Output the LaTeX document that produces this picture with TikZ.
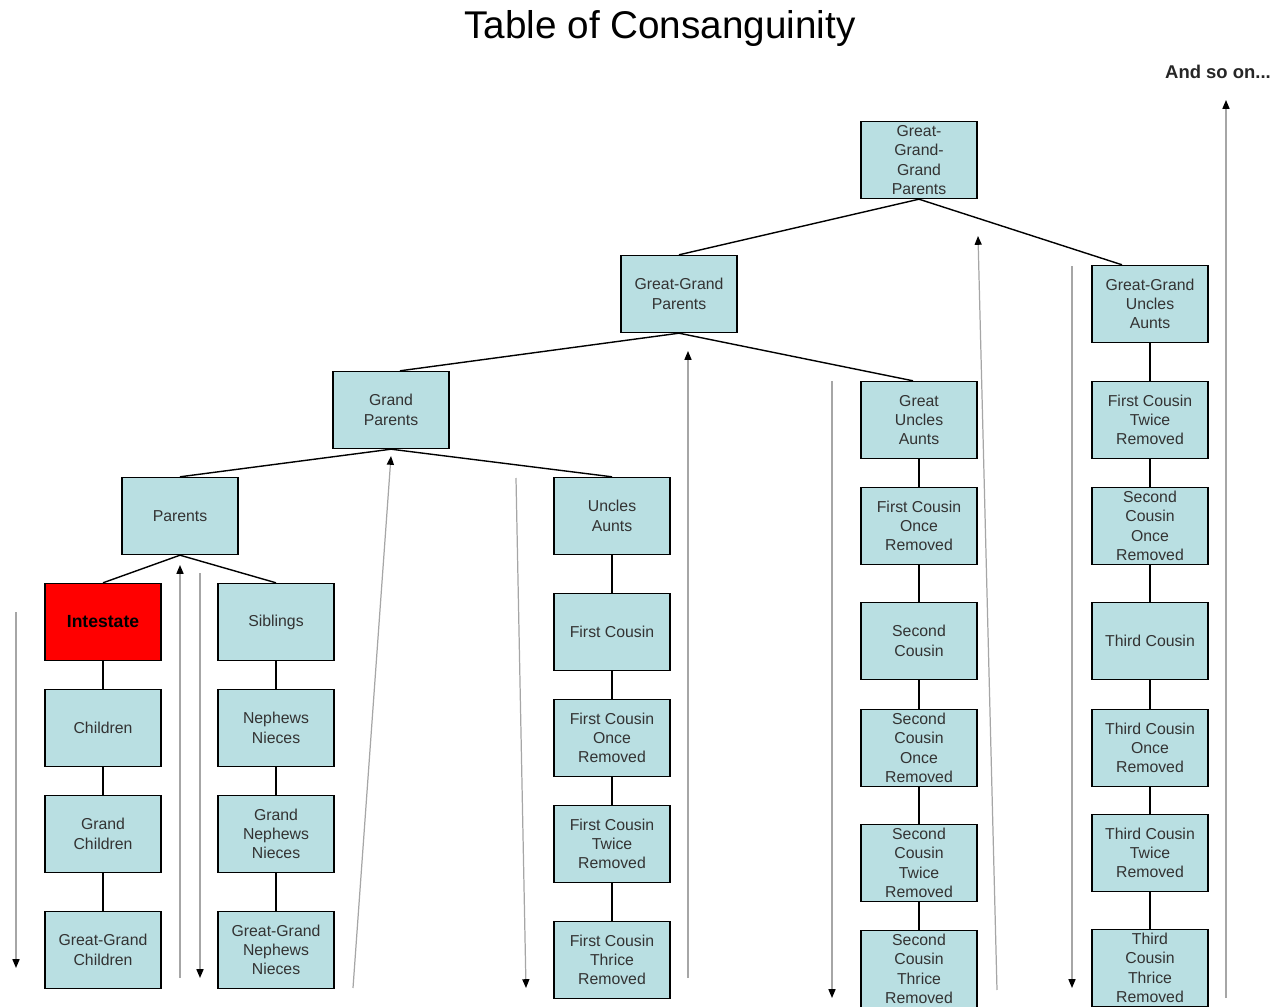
\documentclass[tikz,border=0pt]{standalone}
\usepackage{fontspec}
\setmainfont{Liberation Sans}
\usetikzlibrary{arrows.meta}
\definecolor{kinfill}{RGB}{185,223,226}
\definecolor{heirred}{RGB}{255,0,0}

\begin{document}
\begin{tikzpicture}[x=0.02cm,y=-0.02cm,
    kin/.style={draw=black,line width=0.8pt,fill=kinfill,rectangle,minimum width=2.32cm,minimum height=1.54cm,
      inner sep=0pt,align=center,text=black!80,font=\fontsize{9}{11}\selectfont},
    heir/.style={kin,fill=heirred,text=black,font=\fontsize{10}{12}\selectfont\bfseries},
    link/.style={line width=0.8pt},
    degree/.style={gray!70,line width=0.7pt,-{Triangle[color=black,length=5pt,width=4pt]}}]
    \useasboundingbox (0,0) rectangle (1286,1007);
    %% Title
    \node (title) at (660,29) {\fontsize{22}{25}\selectfont Table of Consanguinity};
    \node[font=\fontsize{10.5}{12}\selectfont\bfseries,text=black!85] (more) at (1218,72) {And so on...};
    %% Descendants
    \node[heir] (int) at (103,622) {Intestate};
    \node[kin] (chi) at (103,728) {Children};
    \node[kin] (gch) at (103,834) {Grand\\Children};
    \node[kin] (ggch) at (103,950) {Great-Grand\\Children};
    %% Parents and siblings
    \node[kin] (par) at (180,516) {Parents};
    \node[kin] (sib) at (276,622) {Siblings};
    \node[kin] (nep) at (276,728) {Nephews\\Nieces};
    \node[kin] (gnep) at (276,834) {Grand\\Nephews\\Nieces};
    \node[kin] (ggnep) at (276,950) {Great-Grand\\Nephews\\Nieces};
    %% Grand parents
    \node[kin] (gp) at (391,410) {Grand\\Parents};
    \node[kin] (ua) at (612,516) {Uncles\\Aunts};
    \node[kin] (fc) at (612,632) {First Cousin};
    \node[kin] (fc1) at (612,738) {First Cousin\\Once\\Removed};
    \node[kin] (fc2) at (612,844) {First Cousin\\Twice\\Removed};
    \node[kin] (fc3) at (612,960) {First Cousin\\Thrice\\Removed};
    %% Great-grand parents
    \node[kin] (ggp) at (679,294) {Great-Grand\\Parents};
    \node[kin] (gua) at (919,420) {Great\\Uncles\\Aunts};
    \node[kin] (gfc1) at (919,526) {First Cousin\\Once\\Removed};
    \node[kin] (sc) at (919,641) {Second\\Cousin};
    \node[kin] (sc1) at (919,748) {Second\\Cousin\\Once\\Removed};
    \node[kin] (sc2) at (919,863) {Second\\Cousin\\Twice\\Removed};
    \node[kin] (sc3) at (919,969) {Second\\Cousin\\Thrice\\Removed};
    %% Great-grand-grand parents
    \node[kin] (gggp) at (919,160) {Great-\\Grand-\\Grand\\Parents};
    \node[kin] (ggua) at (1150,304) {Great-Grand\\Uncles\\Aunts};
    \node[kin] (hfc2) at (1150,420) {First Cousin\\Twice\\Removed};
    \node[kin] (hsc1) at (1150,526) {Second\\Cousin\\Once\\Removed};
    \node[kin] (tc) at (1150,641) {Third Cousin};
    \node[kin] (tc1) at (1150,748) {Third Cousin\\Once\\Removed};
    \node[kin] (tc2) at (1150,853) {Third Cousin\\Twice\\Removed};
    \node[kin] (tc3) at (1150,968) {Third\\Cousin\\Thrice\\Removed};
    %% Branches
    \draw[link] (par.south) -- (int.north);
    \draw[link] (par.south) -- (sib.north);
    \draw[link] (gp.south) -- (par.north);
    \draw[link] (gp.south) -- (ua.north);
    \draw[link] (ggp.south) -- ([xshift=0.18cm]gp.north);
    \draw[link] (ggp.south) -- ([xshift=-0.12cm]gua.north);
    \draw[link] (gggp.south) -- (ggp.north);
    \draw[link] (gggp.south) -- ([xshift=-0.56cm]ggua.north);
    %% Lines of descent
    \foreach \a/\b in {int/chi,chi/gch,gch/ggch,sib/nep,nep/gnep,gnep/ggnep,
        ua/fc,fc/fc1,fc1/fc2,fc2/fc3,gua/gfc1,gfc1/sc,sc/sc1,sc1/sc2,sc2/sc3,
        ggua/hfc2,hfc2/hsc1,hsc1/tc,tc/tc1,tc1/tc2,tc2/tc3}
      \draw[link] (\a) -- (\b);
    %% Degree arrows
    \foreach \xa/\ya/\xb/\yb [count=\i] in {16/612/16/968,180/978/180/565,200/573/200/978,
        353/988/391/456,516/478/526/988,688/978/688/351,832/381/832/998,
        997/990/978/236,1072/266/1072/988,1226/998/1226/100}{
      \coordinate (from\i) at (\xa,\ya);
      \coordinate (to\i) at (\xb,\yb);
      \draw[degree] (from\i) -- (to\i);
    }
\end{tikzpicture}
\end{document}
